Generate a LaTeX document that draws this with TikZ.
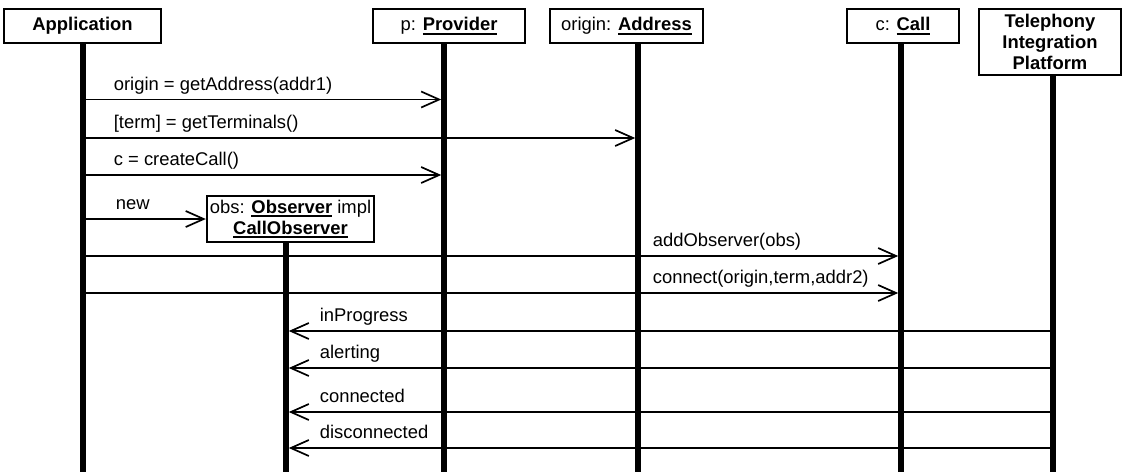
\documentclass[tikz,border=0pt]{standalone}
\usepackage{fontspec}
\setmainfont{Liberation Sans}
\usetikzlibrary{arrows.meta}
\newsavebox{\ubox}
\newcommand{\ubf}[1]{\sbox{\ubox}{\bfseries #1}\rlap{\rule[-4pt]{\wd\ubox}{2pt}}\usebox{\ubox}}
\tikzset{
  obj/.style={draw, line width=1.2pt, fill=white, inner sep=1pt, align=center,
    font=\fontsize{18.4}{21}\selectfont},
  lifeline/.style={line width=5.5pt},
  msg/.style={line width=1.7pt, shorten >=2.75pt,
    -{Straight Barb[length=18pt,width=16pt,line width=1.7pt]}},
  lbl/.style={anchor=base west, inner sep=0pt, font=\fontsize{18.4}{21}\selectfont}
}
\begin{document}
\begin{tikzpicture}[x=1pt,y=-1pt]
\useasboundingbox (0,0) rectangle (1122,472);
% objects
\node[obj, minimum width=157pt, minimum height=34pt] (app) at (82.5,26) {\textbf{Application}};
\node[obj, minimum width=152pt, minimum height=34pt] (prov) at (449,26) {p: \ubf{Provider}};
\node[obj, minimum width=153pt, minimum height=34pt] (addr) at (626.5,26) {origin: \ubf{Address}};
\node[obj, minimum width=112pt, minimum height=34pt] (call) at (903,26) {c: \ubf{Call}};
\node[obj, minimum width=142pt, minimum height=66pt] (tip) at (1050,42)
  {\textbf{Telephony}\\\textbf{Integration}\\\textbf{Platform}};
\node[obj, minimum width=167pt, minimum height=46pt] (obs) at (290.5,219)
  {obs: \ubf{Observer} impl\\\ubf{CallObserver}};
% lifelines
\coordinate (app-end) at (83,472);
\coordinate (prov-end) at (444,472);
\coordinate (addr-end) at (638,472);
\coordinate (call-end) at (901,472);
\coordinate (tip-end) at (1053,472);
\coordinate (obs-end) at (286,472);
\foreach \n in {app,prov,addr,call,tip,obs}
  \draw[lifeline] (\n.south -| \n-end) -- (\n-end);
% messages
\draw[msg] (app-end |- 0,99.5) -- (prov-end |- 0,99.5)
  node[lbl, pos=0, xshift=30pt, yshift=9.5pt] {origin = getAddress(addr1)};
\draw[msg] (app-end |- 0,138) -- (addr-end |- 0,138)
  node[lbl, pos=0, xshift=30pt, yshift=9.5pt] {[term] = getTerminals()};
\draw[msg] (app-end |- 0,175) -- (prov-end |- 0,175)
  node[lbl, pos=0, xshift=30pt, yshift=9.5pt] {c = createCall()};
\draw[msg, shorten >=0.6pt] (app-end |- obs.west) -- (obs.west)
  node[lbl, pos=0, xshift=32pt, yshift=9.5pt] {new};
\draw[msg] (app-end |- 0,256) -- (call-end |- 0,256)
  node[lbl, pos=0, xshift=569pt, yshift=9.5pt] {addObserver(obs)};
\draw[msg] (app-end |- 0,293) -- (call-end |- 0,293)
  node[lbl, pos=0, xshift=569pt, yshift=9.5pt] {connect(origin,term,addr2)};
% events back to the observer
\foreach \y/\t in {331/inProgress, 368/alerting, 412/connected, 448/disconnected}
  \draw[msg] (tip-end |- 0,\y) -- (obs-end |- 0,\y)
    node[lbl, pos=1, xshift=33pt, yshift=9.5pt] {\t};
\end{tikzpicture}
\end{document}
